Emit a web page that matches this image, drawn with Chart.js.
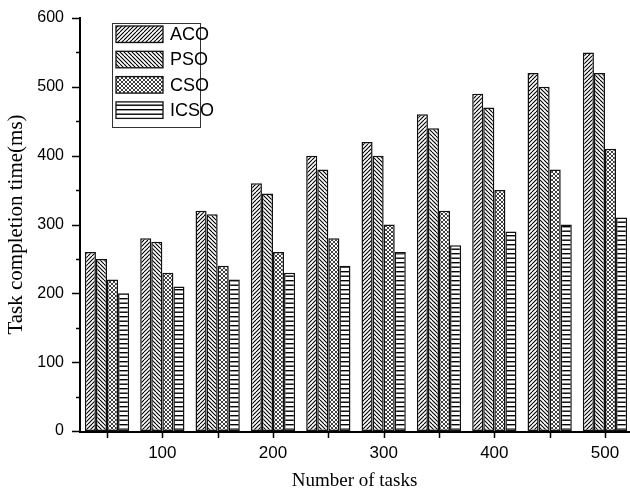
<!DOCTYPE html>
<html>
<head>
<meta charset="utf-8">
<script src="https://cdn.jsdelivr.net/npm/chart.js@4"></script>
<style>
  body { margin: 0; background: #fff; }
  #wrap { width: 630px; height: 493px; position: relative; }
</style>
</head>
<body>
<div id="wrap"><canvas id="chart"></canvas></div>
<script>
const tasks = [50, 100, 150, 200, 250, 300, 350, 400, 450, 500];
const seriesNames = ["ACO", "PSO", "CSO", "ICSO"];
const aco = [260, 280, 320, 360, 400, 420, 460, 490, 520, 550];
const pso = [250, 275, 315, 345, 380, 400, 440, 470, 500, 520];
const cso = [220, 230, 240, 260, 280, 300, 320, 350, 380, 410];
const icso = [200, 210, 220, 230, 240, 260, 270, 290, 300, 310];
const yTicks = [0, 100, 200, 300, 400, 500, 600];

// hatch fills, like the old Origin plot
function makePattern(kind) {
  const size = 8;
  const c = document.createElement("canvas");
  c.width = size;
  c.height = size;
  const g = c.getContext("2d");
  g.fillStyle = "#fff";
  g.fillRect(0, 0, size, size);
  g.strokeStyle = "#000";
  g.lineWidth = kind === "cross" ? 0.75 : 1.1;
  if (kind === "fwd" || kind === "cross") {
    g.beginPath();
    for (let o = -size; o <= size * 2; o += 4) {
      g.moveTo(o, size);
      g.lineTo(o + size, 0);
    }
    g.stroke();
  }
  if (kind === "back" || kind === "cross") {
    g.beginPath();
    for (let o = -size; o <= size * 2; o += 4) {
      g.moveTo(o, 0);
      g.lineTo(o + size, size);
    }
    g.stroke();
  }
  if (kind === "horiz") {
    const h = document.createElement("canvas");
    h.width = 8;
    h.height = 9;
    const hg = h.getContext("2d");
    hg.fillStyle = "#fff";
    hg.fillRect(0, 0, 8, 9);
    hg.fillStyle = "#000";
    hg.fillRect(0, 1, 8, 1.4);
    hg.fillRect(0, 5.5, 8, 1.4);
    return g.createPattern(h, "repeat");
  }
  return g.createPattern(c, "repeat");
}

const fills = [makePattern("fwd"), makePattern("back"), makePattern("cross"), makePattern("horiz")];
const values = [aco, pso, cso, icso];

const datasets = seriesNames.map((name, i) => ({
  label: name,
  data: tasks.map((t, j) => ({ x: t, y: values[i][j] })),
  backgroundColor: fills[i],
  borderColor: "#111",
  borderWidth: 1.5,
  borderSkipped: false,
  categoryPercentage: 0.8,
  barPercentage: 1,
}));

const axisDecor = {
  id: "axisDecor",
  afterDatasetsDraw(chart) {
    const { ctx, chartArea } = chart;
    const x = chart.scales.x;
    const y = chart.scales.y;
    ctx.save();
    ctx.strokeStyle = "#000";
    ctx.lineWidth = 1.5;
    ctx.beginPath();
    for (let v = 0; v <= 600; v += 50) {
      const py = Math.round(y.getPixelForValue(v)) + 0.5;
      const len = v % 100 === 0 ? 8 : 4;
      ctx.moveTo(chartArea.left - len, py);
      ctx.lineTo(chartArea.left, py);
    }
    tasks.forEach((t) => {
      const px = Math.round(x.getPixelForValue(t)) + 0.5;
      ctx.moveTo(px, chartArea.bottom);
      ctx.lineTo(px, chartArea.bottom + 7);
    });
    ctx.stroke();

    ctx.lineWidth = 2;
    ctx.beginPath();
    ctx.moveTo(chartArea.left, chartArea.top - 1);
    ctx.lineTo(chartArea.left, chartArea.bottom + 1);
    ctx.lineTo(chartArea.right + 1, chartArea.bottom + 1);
    ctx.stroke();

    // legend box inside the plot
    ctx.lineWidth = 1;
    ctx.strokeStyle = "#333";
    ctx.strokeRect(112.5, 23.5, 88, 104);
    ctx.font = "18px 'Liberation Sans', Arial, sans-serif";
    ctx.textBaseline = "middle";
    chart.data.datasets.forEach((ds, i) => {
      const top = 26 + i * 25.3;
      ctx.fillStyle = ds.backgroundColor;
      ctx.fillRect(116, top, 47, 16.5);
      ctx.lineWidth = 1.3;
      ctx.strokeStyle = "#111";
      ctx.strokeRect(116, top, 47, 16.5);
      ctx.fillStyle = "#000";
      ctx.fillText(ds.label, 170, top + 9);
    });
    ctx.restore();
  },
};

new Chart(document.getElementById("chart"), {
  type: "bar",
  data: { datasets },
  options: {
    responsive: true,
    maintainAspectRatio: false,
    animation: false,
    layout: { padding: { top: 18, right: 1, left: 0, bottom: 0 } },
    plugins: {
      legend: { display: false },
      tooltip: { enabled: false },
    },
    scales: {
      x: {
        type: "linear",
        offset: false,
        min: 25.6,
        max: 521.7,
        afterBuildTicks: (scale) => {
          scale.ticks = tasks.map((t) => ({ value: t }));
        },
        afterFit: (scale) => {
          scale.height = 62;
        },
        ticks: {
          autoSkip: false,
          maxRotation: 0,
          padding: 5,
          color: "#000",
          font: { family: "'Liberation Sans', Arial, sans-serif", size: 17 },
          callback: (v) => (v % 100 === 0 ? String(v) : ""),
        },
        grid: { display: false, drawTicks: true, tickLength: 7 },
        border: { display: false },
        title: {
          display: true,
          text: "Number of tasks",
          color: "#000",
          font: { family: "'Liberation Serif', 'Times New Roman', serif", size: 19, lineHeight: 1.2 },
          padding: { top: 0, bottom: 1 },
        },
      },
      y: {
        min: 0,
        max: 600,
        afterBuildTicks: (scale) => {
          scale.ticks = yTicks.map((v) => ({ value: v }));
        },
        afterFit: (scale) => {
          scale.width = 80;
        },
        ticks: {
          padding: 8,
          color: "#000",
          font: { family: "'Liberation Sans', Arial, sans-serif", size: 16 },
        },
        grid: { display: false, drawTicks: true, tickLength: 8 },
        border: { display: false },
        title: {
          display: true,
          text: "Task completion time(ms)",
          color: "#000",
          font: { family: "'Liberation Serif', 'Times New Roman', serif", size: 21, lineHeight: 1.2 },
          padding: { top: 4, bottom: 0 },
        },
      },
    },
  },
  plugins: [axisDecor],
});
</script>
</body>
</html>
